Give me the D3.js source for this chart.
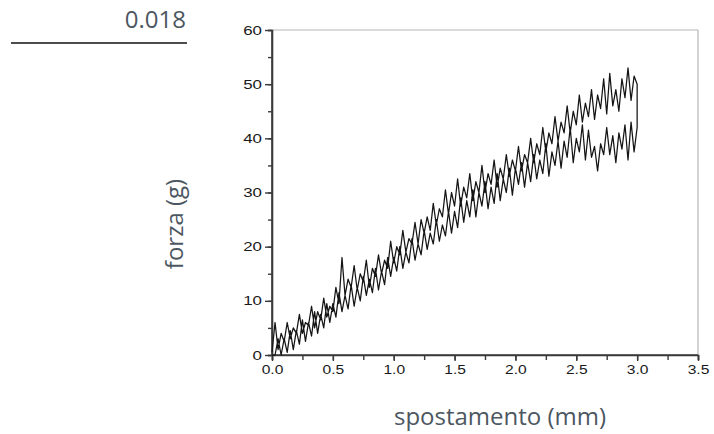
<!DOCTYPE html>
<html><head><meta charset="utf-8">
<script src="https://cdn.jsdelivr.net/npm/d3@7"></script>
<style>body{margin:0;background:#fff}</style></head>
<body><svg id="c" width="714" height="434"></svg>
<script>
const xTicks = [0,0.5,1.0,1.5,2.0,2.5,3.0,3.5];
const yTicks = [0,10,20,30,40,50,60];
const loadX = [0,0.025,0.05,0.075,0.1,0.125,0.15,0.175,0.2,0.225,
  0.25,0.275,0.3,0.325,0.35,0.375,0.4,0.425,0.45,0.475,
  0.5,0.525,0.55,0.575,0.6,0.625,0.65,0.675,0.7,0.725,
  0.75,0.775,0.8,0.825,0.85,0.875,0.9,0.925,0.95,0.975,
  1.0,1.025,1.05,1.075,1.1,1.125,1.15,1.175,1.2,1.225,
  1.25,1.275,1.3,1.325,1.35,1.375,1.4,1.425,1.45,1.475,
  1.5,1.525,1.55,1.575,1.6,1.625,1.65,1.675,1.7,1.725,
  1.75,1.775,1.8,1.825,1.85,1.875,1.9,1.925,1.95,1.975,
  2.0,2.025,2.05,2.075,2.1,2.125,2.15,2.175,2.2,2.225,
  2.25,2.275,2.3,2.325,2.35,2.375,2.4,2.425,2.45,2.475,
  2.5,2.525,2.55,2.575,2.6,2.625,2.65,2.675,2.7,2.725,
  2.75,2.775,2.8,2.825,2.85,2.875,2.9,2.925,2.95,2.975,
  3.0];
const loadY = [0.5,6,1,4,2.5,6,3,5,4,7.5,
  4,6,5.5,9,5,8,6.5,10.5,7,9,
  8,12.5,9.5,18,11,14,12.5,16.5,12,15,
  13.5,17.5,12.5,16,14.5,18.5,15,17.5,16,21,
  17,20,18.5,23,19,21.5,20.5,24.5,20.5,25,
  22.5,25.5,23,28,24,27,25.5,30.5,26,30,
  27.5,32.5,27.5,31,29,33.5,28.5,32,30,35,
  30,33.5,31.5,36,31,34.5,32.5,37,33,36,
  34,38.5,34,37,35.5,40,35.5,39,37,42,
  37.5,41,39,44,39.5,43,41,46,41,45,
  42.5,48,43,46.5,44,49,43.5,48,45.5,51,
  44.5,52,46,49,45,51,47.5,53,47,51.5,
  50];
const unloadX = [3.0,2.975,2.95,2.925,2.9,2.875,2.85,2.825,2.8,2.775,
  2.75,2.725,2.7,2.675,2.65,2.625,2.6,2.575,2.55,2.525,
  2.5,2.475,2.45,2.425,2.4,2.375,2.35,2.325,2.3,2.275,
  2.25,2.225,2.2,2.175,2.15,2.125,2.1,2.075,2.05,2.025,
  2.0,1.975,1.95,1.925,1.9,1.875,1.85,1.825,1.8,1.775,
  1.75,1.725,1.7,1.675,1.65,1.625,1.6,1.575,1.55,1.525,
  1.5,1.475,1.45,1.425,1.4,1.375,1.35,1.325,1.3,1.275,
  1.25,1.225,1.2,1.175,1.15,1.125,1.1,1.075,1.05,1.025,
  1.0,0.975,0.95,0.925,0.9,0.875,0.85,0.825,0.8,0.775,
  0.75,0.725,0.7,0.675,0.65,0.625,0.6,0.575,0.55,0.525,
  0.5,0.475,0.45,0.425,0.4,0.375,0.35,0.325,0.3,0.275,
  0.25,0.225,0.2,0.175,0.15,0.125,0.1,0.075,0.05,0.025,
  0];
const unloadY = [42,37.5,43,36,42.5,38,41,35.5,40.5,37,
  42,37,39,34,38.5,36.5,41.5,36,42.5,37.5,
  40,35.5,42,36.5,39.5,34.5,39.5,35,37.5,33,
  39,33.5,36,32.5,37,32,35.5,31,35.5,31.5,
  34.5,29.5,34.5,30,32.5,28.5,33.5,28,31,27,
  32,27.5,30,25.5,30.5,25.5,28.5,24.5,29,23.5,
  26.5,22.5,26.5,22,24,21,25,20.5,22.5,19.5,
  23,18.5,20.5,17.5,21.5,17,19,16,20,15.5,
  18,14.5,18,13,15.5,12,16,11.5,14,11,
  14.5,10,12.5,9,13,8.5,11,8,11.5,7,
  9.5,6,9.5,5,7.5,4,8,3.5,6,2.5,
  6.5,2,4.5,1,4.5,0.5,3,0,3,0,
  0];

const svg = d3.select('#c');
const x = d3.scaleLinear().domain([0,3.5]).range([272,698]);
const y = d3.scaleLinear().domain([0,60]).range([355,30]);

svg.append('line').attr('x1',272).attr('x2',698).attr('y1',y(60)).attr('y2',y(60)).attr('stroke','#b5b5b5').attr('stroke-width',1.2);
svg.append('line').attr('x1',698).attr('x2',698).attr('y1',y(60)).attr('y2',y(0)).attr('stroke','#b5b5b5').attr('stroke-width',1.2);

const tf = 'Liberation Sans, Arial, sans-serif';
const xMinor = d3.range(0,3.5001,0.25);
const yMinor = d3.range(0,60.001,5);
const gx = svg.append('g').attr('transform',`translate(0,${y(0)})`)
  .call(d3.axisBottom(x).tickValues(xMinor).tickSize(5).tickFormat(''));
const gx2 = svg.append('g').attr('transform',`translate(0,${y(0)})`)
  .call(d3.axisBottom(x).tickValues(xTicks).tickSize(6).tickPadding(4).tickFormat(d3.format('.1f')));
const gy = svg.append('g').attr('transform',`translate(${x(0)},0)`)
  .call(d3.axisLeft(y).tickValues(yMinor).tickSize(4).tickFormat(''));
const gy2 = svg.append('g').attr('transform',`translate(${x(0)},0)`)
  .call(d3.axisLeft(y).tickValues(yTicks).tickSize(7).tickPadding(2).tickFormat(d3.format('d')));
[gx,gx2,gy,gy2].forEach(g=>{
  g.select('.domain').attr('stroke','#3a3a3a').attr('stroke-width',1.6);
  g.selectAll('.tick line').attr('stroke','#3a3a3a').attr('stroke-width',1.4);
  g.selectAll('.tick text').attr('fill','#1a1a1a').style('font-family',tf).style('font-size','13px');
});
gx2.selectAll('.tick text').attr('x',0).attr('transform','scale(1.2,1)');
gy2.selectAll('.tick text').attr('x',-10/1.3).attr('transform','scale(1.3,1)');
gx2.select('.domain').attr('d',`M${x(0)},0H${x(3.5)}`);
gy2.select('.domain').attr('d',`M0,${y(0)}V${y(60)}`);

const line = d3.line().x(d=>x(d[0])).y(d=>y(d[1]));
const load = loadX.map((v,i)=>[v,loadY[i]]);
const unload = unloadX.map((v,i)=>[v,unloadY[i]]);
svg.append('path').datum(load.concat(unload)).attr('d',line).attr('fill','none')
  .attr('stroke','#151515').attr('stroke-width',1.25).attr('stroke-linejoin','round');

const lf = '"Open Sans", "Noto Sans", sans-serif';
const lc = '#4d5761';
svg.append('text').attr('x',186).attr('y',28).attr('text-anchor','end')
  .style('font-family',lf).style('font-size','24px').attr('fill',lc).text('0.018');
svg.append('line').attr('x1',11).attr('x2',187).attr('y1',43).attr('y2',43).attr('stroke','#111').attr('stroke-width',1.5);
svg.append('text').attr('transform','translate(183,224) rotate(-90)').attr('text-anchor','middle')
  .style('font-family',lf).style('font-size','24px').attr('fill',lc).text('forza (g)');
svg.append('text').attr('x',500).attr('y',425).attr('text-anchor','middle')
  .style('font-family',lf).style('font-size','24px').attr('fill',lc).text('spostamento (mm)');
</script></body></html>
